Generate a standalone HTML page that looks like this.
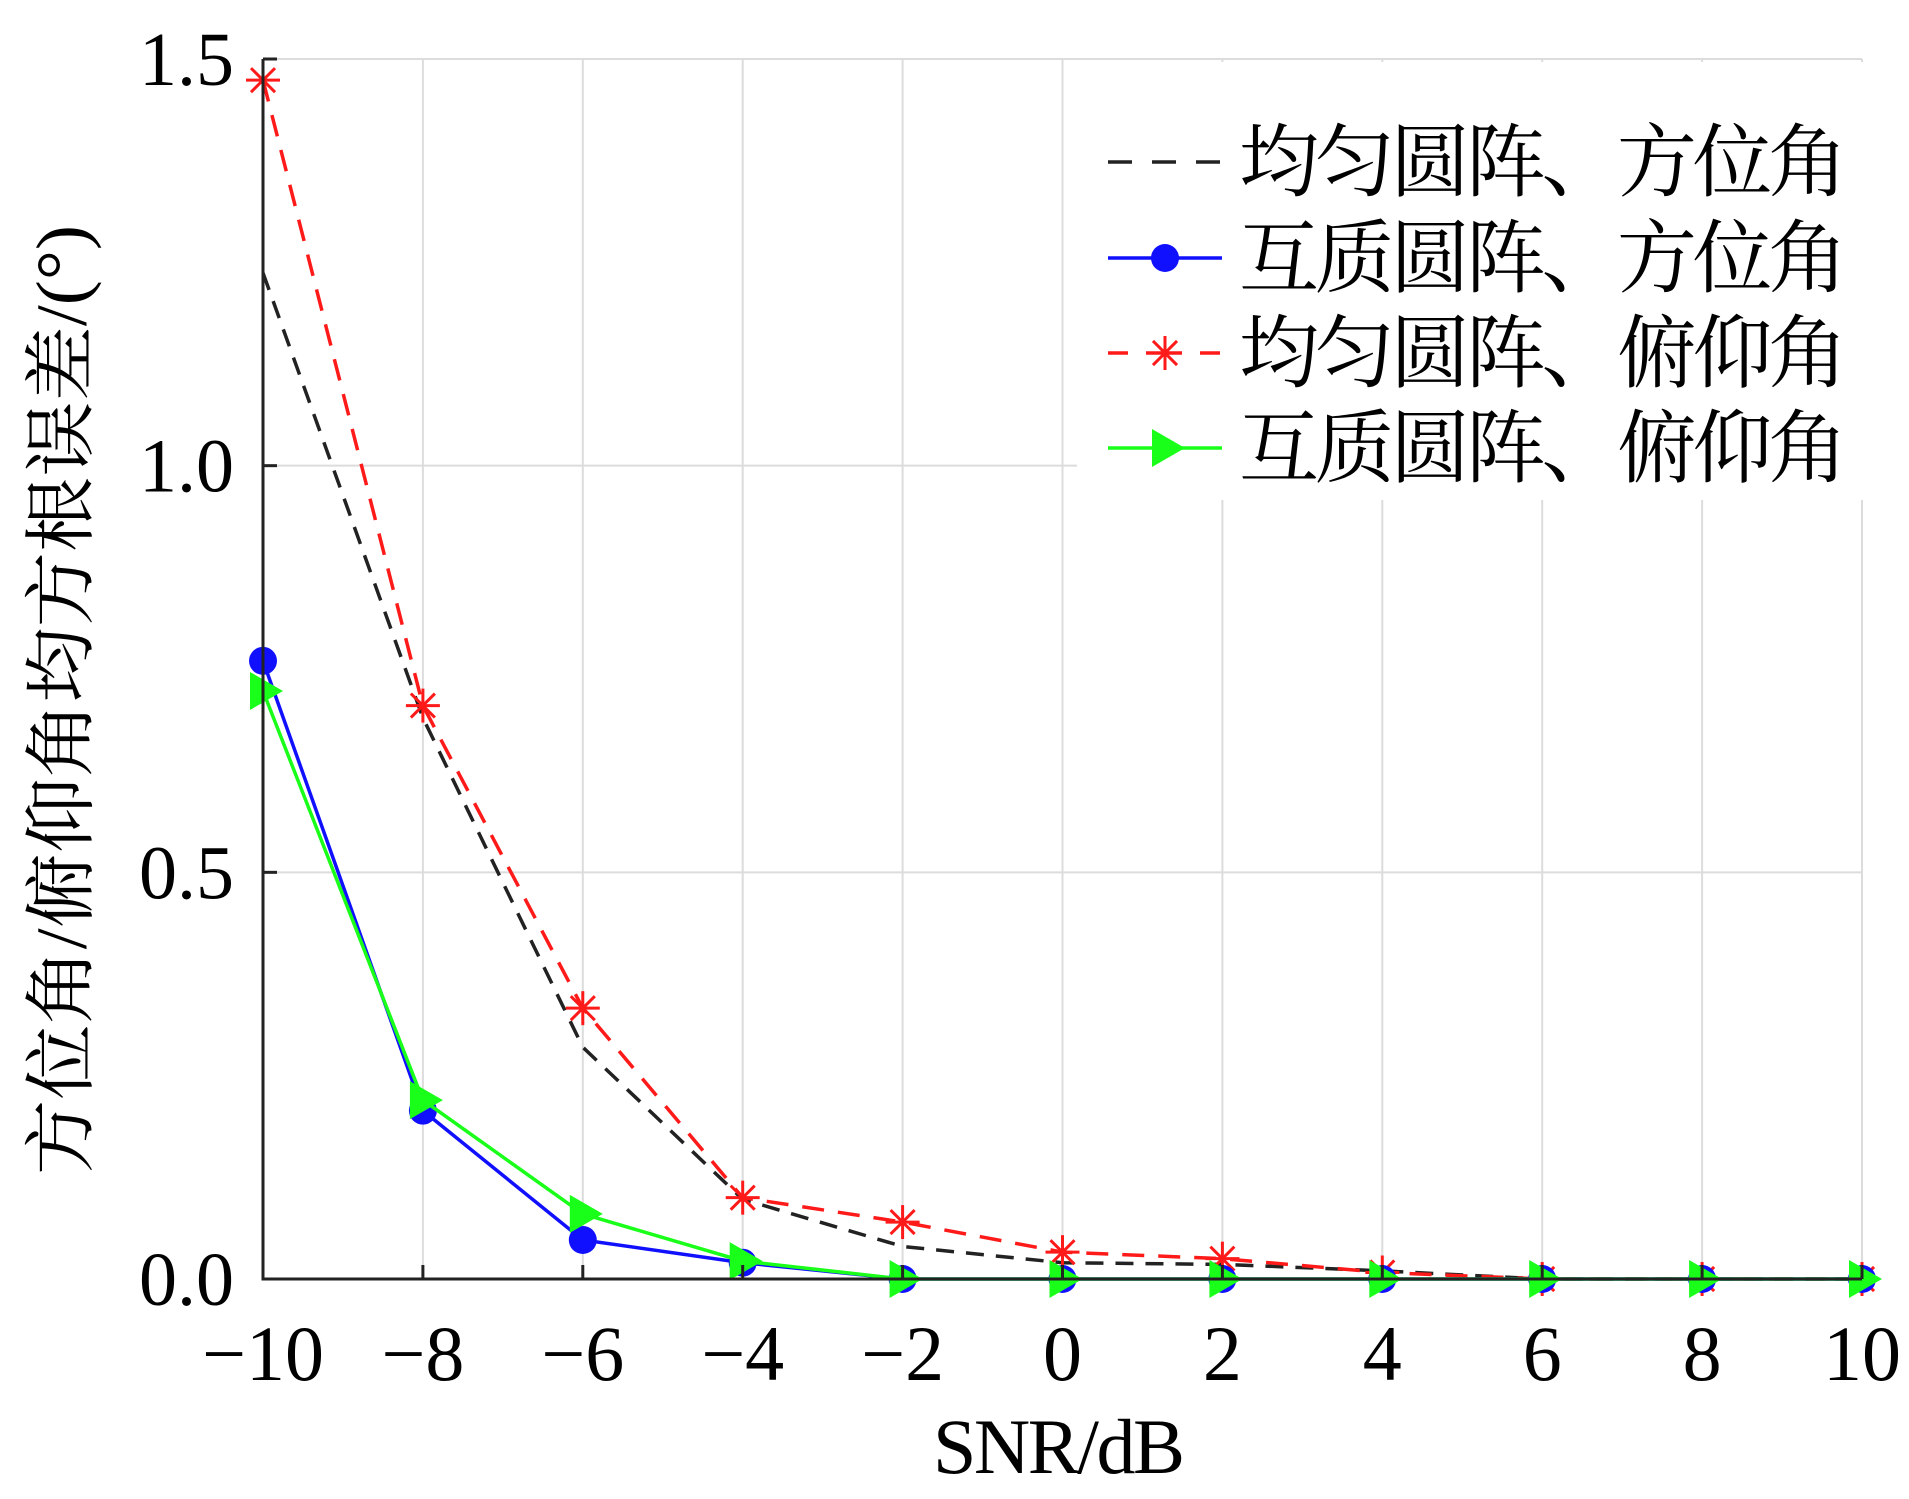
<!DOCTYPE html>
<html><head><meta charset="utf-8"><style>
html,body{margin:0;padding:0;background:#fff;}
svg{display:block;}
</style></head><body>
<svg id="chart" width="1909" height="1499" viewBox="0 0 1909 1499" xmlns="http://www.w3.org/2000/svg">
<rect width="1909" height="1499" fill="#fff"/>
<g id="grid"></g>
<rect x="1077" y="62" width="790" height="438" fill="#fff"/>
<g id="series"></g>
<g id="axes"></g>
<g id="legend"></g>
<text x="1059" y="1473" text-anchor="middle" font-family="Liberation Serif, serif" font-size="78" textLength="252">SNR/dB</text>
<text transform="translate(86,700) rotate(-90)" text-anchor="middle" font-family="Liberation Serif, 'Noto Serif CJK SC', serif" font-size="72" textLength="950" lengthAdjust="spacingAndGlyphs">方位角/俯仰角均方根误差/(°)</text>
</svg>
<script>
const snr = [-10,-8,-6,-4,-2,0,2,4,6,8,10];
const uniformAz = [1.237,0.69,0.285,0.098,0.04,0.02,0.018,0.01,0,0,0];
const coprimeAz = [0.76,0.207,0.048,0.02,0,0,0,0,0,0,0];
const uniformEl = [1.474,0.705,0.333,0.1,0.07,0.033,0.025,0.008,0,0,0];
const coprimeEl = [0.723,0.22,0.08,0.022,0,0,0,0,0,0,0];
const yTicks = [0,0.5,1.0,1.5];
const yTickLabels = ["0.0","0.5","1.0","1.5"];
const xTickLabels = ["\u221210","\u22128","\u22126","\u22124","\u22122","0","2","4","6","8","10"];
const legendLabels = ["均匀圆阵、方位角","互质圆阵、方位角","均匀圆阵、俯仰角","互质圆阵、俯仰角"];

const NS="http://www.w3.org/2000/svg";
const X0=263,X1=1862,Y0=1279,Y1=59;
function sx(v){return X0+(v+10)/20*(X1-X0);}
function sy(v){return Y0-v/1.5*(Y0-Y1);}
function mk(tag,attrs,parent){const e=document.createElementNS(NS,tag);for(const k in attrs)e.setAttribute(k,attrs[k]);parent.appendChild(e);return e;}
const grid=document.getElementById('grid'),axes=document.getElementById('axes'),series=document.getElementById('series'),legend=document.getElementById('legend');

snr.forEach((v,i)=>{
  const l=mk('line',{x1:sx(v),x2:sx(v),y1:Y1,y2:Y0,stroke:'#dcdcdc','stroke-width':2},grid);
  
  
  const t=mk('line',{x1:sx(v),x2:sx(v),y1:Y0,y2:Y0-14,stroke:'#222','stroke-width':3},axes);
  
  
  const tx=mk('text',{x:sx(v),y:1380,'text-anchor':'middle','font-family':'Liberation Serif, serif','font-size':78},axes);
  tx.textContent=xTickLabels[i];
  
  
});
yTicks.forEach((v,i)=>{
  if(v>0){const l=mk('line',{x1:X0,x2:X1,y1:sy(v),y2:sy(v),stroke:'#dcdcdc','stroke-width':2},grid);
  
  }
  const t=mk('line',{x1:X0,x2:X0+14,y1:sy(v),y2:sy(v),stroke:'#222','stroke-width':3},axes);
  
  
  const tx=mk('text',{x:234,y:sy(v)+26,'text-anchor':'end','font-family':'Liberation Serif, serif','font-size':76},axes);
  tx.textContent=yTickLabels[i];
  
  
});
const ax1=mk('line',{x1:X0,x2:X0,y1:Y1,y2:Y0+1.5,stroke:'#222','stroke-width':3},axes);


const ax2=mk('line',{x1:X0-1.5,x2:X1,y1:Y0,y2:Y0,stroke:'#222','stroke-width':3},axes);



function marker(type,cx,cy,color,parent){
  if(type==='circle'){return mk('circle',{cx:cx,cy:cy,r:14,fill:color},parent);}
  if(type==='tri'){return mk('polygon',{points:`${cx-13},${cy-19} ${cx+20},${cy} ${cx-13},${cy+19}`,fill:color},parent);}
  if(type==='star'){const g=mk('g',{stroke:color,'stroke-width':3},parent);
    const r=17;[0,45,90,135].forEach(a=>{const rad=a*Math.PI/180;mk('line',{x1:cx-r*Math.cos(rad),y1:cy-r*Math.sin(rad),x2:cx+r*Math.cos(rad),y2:cy+r*Math.sin(rad)},g);});return g;}
  return null;
}
const defs=[
  {vals:uniformAz,color:'#222',dash:'18 12',m:null,name:'uniform-azimuth'},
  {vals:uniformEl,color:'#ff1a1a',dash:'22 14',m:'star',name:'uniform-elevation'},
  {vals:coprimeAz,color:'#1010ff',dash:null,m:'circle',name:'coprime-azimuth'},
  {vals:coprimeEl,color:'#1aff1a',dash:null,m:'tri',name:'coprime-elevation'}
];
defs.forEach(d=>{
  const g=mk('g',{},series);
  
  
  const pts=snr.map((v,i)=>sx(v)+','+sy(d.vals[i])).join(' ');
  const a={points:pts,fill:'none',stroke:d.color,'stroke-width':3.5};
  if(d.dash)a['stroke-dasharray']=d.dash;
  const pl=mk('polyline',a,g);
  
  
  if(d.m){snr.forEach((v,i)=>{const e=marker(d.m,sx(v),sy(d.vals[i]),d.color,g);
    
    });}
});
const legDefs=[defs[0],defs[2],defs[1],defs[3]];
const rows=[162,258,353,448];
legDefs.forEach((d,i)=>{
  const g=mk('g',{},legend);
  
  
  const a={x1:1108,x2:1222,y1:rows[i],y2:rows[i],stroke:d.color,'stroke-width':3.5};
  if(d.dash)a['stroke-dasharray']= d.m ? '20 18 36 18 20' : '24 20';
  mk('line',a,g);
  if(d.m)marker(d.m,1165,rows[i],d.color,g);
  const t=mk('text',{x:1239,y:rows[i]+28,'font-family':'Liberation Serif, "Noto Serif CJK SC", serif','font-size':80,textLength:609,lengthAdjust:'spacing'},g);
  t.textContent=legendLabels[i];
  
  
});
</script>
</body></html>
